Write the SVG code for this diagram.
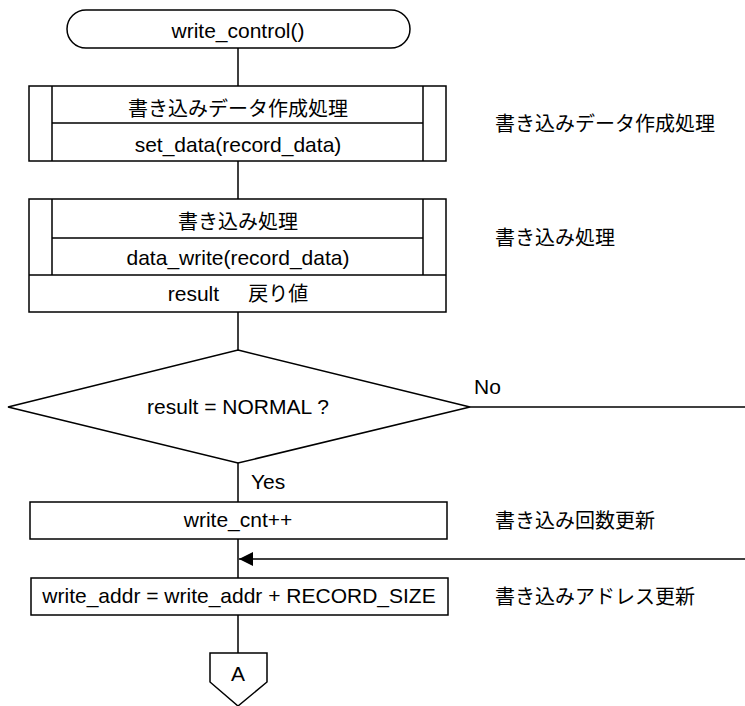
<svg xmlns="http://www.w3.org/2000/svg" width="745" height="706" viewBox="0 0 745 706">
<style>
.s{fill:#fff;stroke:#000;stroke-width:1.5}
.l{fill:none;stroke:#000;stroke-width:1.5}
text{font-family:"Liberation Sans","Noto Sans CJK JP",Arial,sans-serif;font-size:21px;fill:#000}
.j{font-size:20px}
.c{text-anchor:middle}
</style>
<defs>
<marker id="ah" viewBox="0 0 10 10" refX="10" refY="5" markerWidth="14" markerHeight="14" markerUnits="userSpaceOnUse" orient="auto">
<path d="M0,0 L10,5 L0,10 Z" fill="#000"/>
</marker>
</defs>
<g id="connectors">
<path class="l" d="M238,48 V86 M238,161 V199 M238,312 V350 M238,463 V502 M238,539 V578 M238,615 V653"/>
<path class="l" d="M470,407 H745"/>
<path class="l" d="M745,559 H239" marker-end="url(#ah)"/>
<text x="474" y="394">No</text>
<text x="251" y="489">Yes</text>
</g>
<g id="start">
<rect class="s" x="67" y="10" width="343" height="38" rx="19" ry="19"/>
<text class="c" x="238" y="38">write_control()</text>
</g>
<g id="set_data">
<rect class="s" x="29" y="86" width="417" height="75"/>
<path class="l" d="M52,86 V161 M423,86 V161 M52,123 H423"/>
<text class="c j" x="238" y="116">書き込みデータ作成処理</text>
<text class="c" x="238" y="152">set_data(record_data)</text>
</g>
<g id="data_write">
<rect class="s" x="29" y="199" width="417" height="113"/>
<path class="l" d="M52,199 V275 M423,199 V275 M52,238 H423 M29,275 H446"/>
<text class="c j" x="238" y="229">書き込み処理</text>
<text class="c" x="238" y="265">data_write(record_data)</text>
<text class="c" x="238" y="301" xml:space="preserve">result     <tspan class="j">戻り値</tspan></text>
</g>
<g id="decision">
<polygon class="s" points="238,350 470,407 238,463 8,407"/>
<text class="c" x="238" y="414">result = NORMAL ?</text>
</g>
<g id="write_cnt">
<rect class="s" x="30" y="502" width="417" height="37"/>
<text class="c" x="238" y="527">write_cnt++</text>
</g>
<g id="write_addr">
<rect class="s" x="31" y="578" width="417" height="37"/>
<text class="c" x="239" y="603">write_addr = write_addr + RECORD_SIZE</text>
</g>
<g id="connector_A">
<polygon class="s" points="210,653 267,653 267,682 238,706 210,682"/>
<text class="c" x="238" y="681">A</text>
</g>
<g id="comments" class="j">
<text class="j" x="495" y="131">書き込みデータ作成処理</text>
<text class="j" x="495" y="245">書き込み処理</text>
<text class="j" x="495" y="528">書き込み回数更新</text>
<text class="j" x="495" y="604">書き込みアドレス更新</text>
</g>
</svg>
